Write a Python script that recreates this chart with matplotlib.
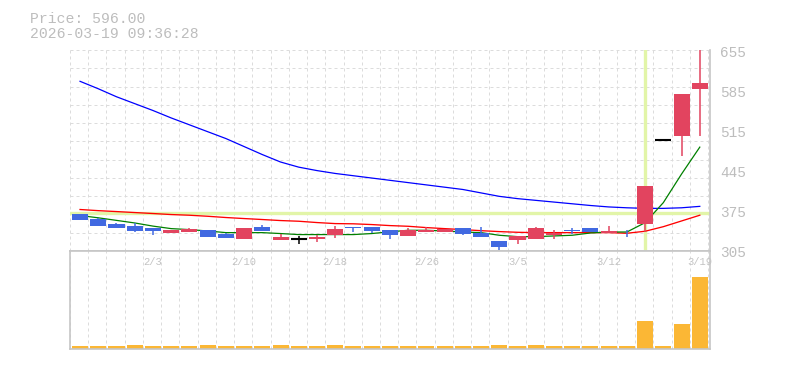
import matplotlib
matplotlib.use("Agg")
import matplotlib.pyplot as plt
import numpy as np

# ---------------- data ----------------
dates = ["1/28", "1/29", "1/30", "2/2", "2/3", "2/4", "2/5", "2/6", "2/9", "2/10",
         "2/12", "2/13", "2/16", "2/17", "2/18", "2/19", "2/20", "2/24", "2/25", "2/26",
         "2/27", "3/2", "3/3", "3/4", "3/5", "3/6", "3/9", "3/10", "3/11", "3/12",
         "3/13", "3/16", "3/17", "3/18", "3/19"]
opens = [373, 364, 355, 352, 348, 340, 341.7, 345, 338, 329.5,
         350, 327.8, 330, 329.5, 337, 350, 350, 344.7, 334.8, 342.4,
         341.7, 348, 340, 326.7, 327.8, 329.5, 337.2, 345.3, 348.7, 340,
         342, 355.8, 502, 510, 592]
highs = [373, 366, 357, 357, 348, 345, 349, 345, 340.6, 348,
         353.5, 337.7, 335, 336.5, 351.7, 350, 350, 344.7, 348.7, 350,
         347.6, 348, 350, 326.7, 334, 350, 345.3, 348, 348.7, 351.7,
         346, 421.7, 502, 582.7, 665]
lows = [362, 353, 349, 342, 336, 340, 341.7, 333, 331, 329.5,
        343.5, 327.8, 321, 324, 331.3, 341.7, 340.6, 329.5, 334.8, 341,
        341.7, 336, 333, 309.7, 321, 329.5, 329.5, 339, 341.2, 340,
        333, 341.7, 502, 475, 510]
closes = [362, 353, 349, 343.5, 343.5, 345, 346.5, 333, 331, 348,
          343.5, 332.5, 330, 332.5, 346.5, 348.5, 343.5, 336.5, 344.7, 345.3,
          347.6, 338, 333, 315.5, 334, 348.7, 340, 343, 341.2, 343,
          341, 421.7, 502, 582.7, 602]
volumes = [3.2, 3.2, 3.2, 4.3, 3.2, 3.2, 3.2, 4.3, 3.2, 3.2,
           3.2, 4.3, 3.2, 3.2, 4.3, 3.2, 3.2, 3.2, 3.2, 3.2,
           3.2, 3.2, 3.2, 4.3, 3.2, 4.3, 3.2, 3.2, 3.2, 3.2,
           3.2, 28, 3.2, 25, 71]
ma_short = [370.5, 366.5, 362, 357.5, 352, 347.6, 345.9, 343.5, 340.6, 340.6,
            340.6, 339, 337.2, 337.2, 337.2, 337.2, 339, 342, 344.7, 344.7,
            343.5, 341.7, 340.6, 336, 333.6, 333.6, 334.8, 336, 340, 341.7,
            341.7, 358, 393, 443, 490]
ma_mid = [381, 379, 377.4, 375.7, 374, 372.2, 371, 369.2, 367, 365.2,
          363.5, 361.7, 360.5, 358.2, 356.4, 356, 354.7, 352.9, 351.7, 349.4,
          347.6, 345.9, 344, 342.4, 341.2, 340.6, 340.6, 340.6, 340.6, 340.6,
          339.5, 343, 351, 361, 371]
ma_long = [605, 592, 578, 566, 554, 541, 529, 517, 505, 491,
           477, 464, 455, 449, 444, 440, 436, 432, 428, 424,
           420, 416, 410, 404, 400, 397, 394, 391, 388, 385.5,
           384, 383, 383, 384, 386.5]
price_ticks = [305, 375, 445, 515, 585, 655]
date_label_idx = [4, 9, 14, 19, 24, 29, 34]
header_price = "Price: 596.00"
header_time = "2026-03-19 09:36:28"
cross_idx = 31
cross_price = 375.5

# ---------------- style ----------------
W, H = 785, 370
UP = "#e2445f"
DOWN = "#4169e1"
VOLC = "#fbb735"
GRID = "#dcdcdc"
BORDER = "#c6c6c6"
TXT = "#bdbdbd"
CROSS = "#e2f5a8"
FONT = "Liberation Mono"

fig = plt.figure(figsize=(W / 100, H / 100), dpi=100)
left, right = 70, 710
m_top, m_bot = 50, 251
v_top, v_bot = 251, 349
ax = fig.add_axes([left / W, 1 - m_bot / H, (right - left) / W, (m_bot - m_top) / H])
axv = fig.add_axes([left / W, 1 - v_bot / H, (right - left) / W, (v_bot - v_top) / H])

x = np.arange(len(dates))
xlo, xhi = -0.55, 34.56
ylo, yhi = 308.5, 659.7

for a in (ax, axv):
    a.set_xlim(xlo, xhi)
    a.set_xticks([])
    a.set_yticks([])
    a.set_facecolor("white")
    for k in range(36):
        a.axvline(xlo + k * (xhi - xlo) / 35.1, color=GRID, lw=0.72,
                  linestyle=(0, (3, 3)), zorder=0)

ax.set_ylim(ylo, yhi)
for i in range(12):
    ax.axhline(ylo + i * (yhi - ylo) / 11, color=GRID, lw=0.72,
               linestyle=(0, (3, 3)), zorder=0)

for s in ("top", "left"):
    ax.spines[s].set_visible(False)
for s in ("right", "bottom"):
    ax.spines[s].set_color(BORDER)
    ax.spines[s].set_linewidth(1.2)
for s in axv.spines.values():
    s.set_color(BORDER)
    s.set_linewidth(1.2)

# crosshair
ax.axvline(cross_idx, color=CROSS, lw=2.4, zorder=1)
ax.axhline(cross_price, color=CROSS, lw=2.4, zorder=1)

# moving averages
ax.plot(x, ma_long, color="#0000ff", lw=0.9, zorder=2)
ax.plot(x, ma_mid, color="#ff0000", lw=0.95, zorder=2)
ax.plot(x, ma_short, color="#008000", lw=0.9, zorder=2)

# candles
o = np.array(opens); c = np.array(closes)
hi = np.array(highs); lo = np.array(lows)
cols = [UP if cc > oo else (DOWN if cc < oo else "black") for oo, cc in zip(o, c)]
ax.vlines(x, lo, hi, colors=cols, lw=1.1, zorder=3)
body = c - o
mask = body != 0
ax.bar(x[mask], body[mask], bottom=o[mask], width=0.88,
       color=[cols[i] for i in range(len(x)) if mask[i]], zorder=4)
doji = ~mask
ax.hlines(o[doji], x[doji] - 0.44, x[doji] + 0.44, colors="black", lw=1.5, zorder=4)

# volume
axv.bar(x, volumes, width=0.88, color=VOLC, zorder=2)
axv.set_ylim(0, 97)

# price labels
for v in price_ticks:
    ax.annotate(str(v), xy=(1, v), xycoords=("axes fraction", "data"),
                xytext=(10, 0), textcoords="offset pixels", ha="left", va="center",
                fontsize=10.4, color=TXT, family=FONT, annotation_clip=False)

# date labels
for i in date_label_idx:
    axv.annotate(dates[i], xy=(i, 1), xycoords=("data", "axes fraction"),
                 xytext=(0, -11), textcoords="offset pixels", ha="center", va="center",
                 fontsize=7.6, color="#c4c4c4", family=FONT, annotation_clip=False)

fig.text(30 / W, 1 - 22.7 / H, header_price, fontsize=10.6, color=TXT,
         family=FONT, va="baseline", ha="left")
fig.text(30 / W, 1 - 37.7 / H, header_time, fontsize=10.6, color=TXT,
         family=FONT, va="baseline", ha="left")

fig.savefig("out.png", dpi=100)
